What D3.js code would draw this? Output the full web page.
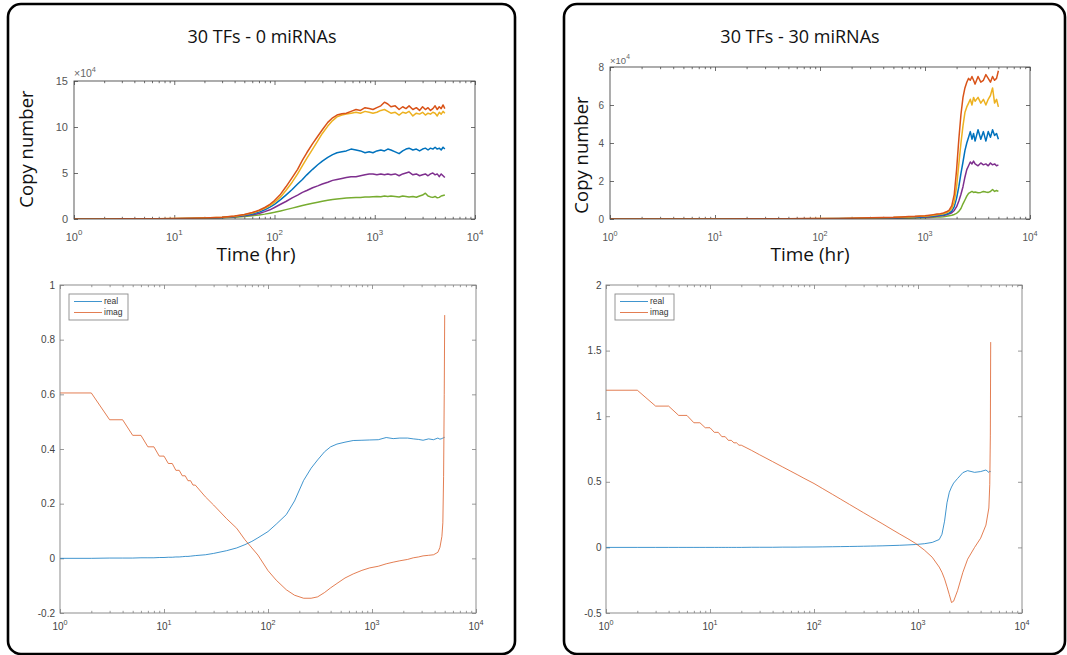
<!DOCTYPE html>
<html><head><meta charset="utf-8">
<script src="https://cdn.jsdelivr.net/npm/d3@7"></script>
<style>body{margin:0;background:#fff}svg{display:block}</style>
</head><body>
<svg id="c" width="1067" height="655"></svg>
<script>
// ---------- DATA ----------
// Panel titles
const titles = ["30 TFs - 0 miRNAs", "30 TFs - 30 miRNAs"];
const xMajorTicks = [1, 10, 100, 1000, 10000];
const yTicksTopA = [0, 5, 10, 15];
const yTicksTopB = [0, 2, 4, 6, 8];
const yTicksBotA = [-0.2, 0, 0.2, 0.4, 0.6, 0.8, 1];
const yTicksBotB = [-0.5, 0, 0.5, 1, 1.5, 2];
const legendLabels = ["real", "imag"];

// Top-left: copy number (x10^4) vs time (hr), 30 TFs - 0 miRNAs
const timeA = [1,2,3,5,7,10,15,20,30,40,50,60,70,80,90,100,115,130,150,170,190,210,240,270,300,340,380,420,470,520,580,650,720,800,880,960,1050,1150,1250,1350,1450,1600,1750,1900,2050,2200,2400,2600,2800,3000,3200,3400,3600,3800,4000,4200,4400,4600,4800,5000];
const redA = [0.01,0.01,0.02,0.03,0.04,0.06,0.08,0.12,0.2,0.33,0.5,0.7,0.95,1.25,1.6,2.0,2.7,3.5,4.5,5.4,6.4,7.2,8.2,9.0,9.7,10.5,11.0,11.3,11.45,11.5,11.7,11.9,11.8,12.1,12.0,11.9,12.1,12.3,12.7,12.5,12.2,12.3,11.9,12.2,12.0,12.3,11.9,12.1,11.8,12.2,11.9,12.1,11.8,12.0,12.3,11.9,12.2,12.0,12.4,12.0];
const yellowA = [0.01,0.01,0.02,0.03,0.04,0.05,0.08,0.11,0.19,0.31,0.47,0.65,0.88,1.15,1.45,1.8,2.4,3.1,4.0,4.9,5.8,6.6,7.6,8.5,9.3,10.1,10.7,11.1,11.3,11.4,11.5,11.6,11.5,11.7,11.6,11.5,11.6,11.8,11.9,11.7,11.5,11.6,11.3,11.6,11.5,11.7,11.2,11.5,11.4,11.6,11.3,11.5,11.4,11.6,11.5,11.2,11.6,11.4,11.7,11.5];
const blueA = [0.01,0.01,0.01,0.02,0.03,0.04,0.06,0.09,0.16,0.26,0.4,0.55,0.75,1.0,1.3,1.6,2.1,2.6,3.2,3.8,4.3,4.8,5.4,5.9,6.3,6.7,7.0,7.2,7.3,7.4,7.6,7.5,7.4,7.2,7.3,7.2,7.4,7.5,7.4,7.6,7.5,7.3,7.1,7.4,7.6,7.7,7.5,7.6,7.4,7.6,7.7,7.5,7.7,7.6,7.8,7.6,7.7,7.5,7.8,7.6];
const purpleA = [0.01,0.01,0.01,0.02,0.03,0.04,0.06,0.09,0.15,0.24,0.35,0.45,0.6,0.8,1.0,1.25,1.6,1.9,2.3,2.6,2.9,3.1,3.4,3.6,3.8,4.0,4.2,4.3,4.4,4.5,4.6,4.6,4.7,4.8,4.9,4.9,4.8,4.9,4.8,4.9,4.8,4.9,4.7,4.9,5.0,5.1,4.8,4.9,4.7,4.8,4.9,4.7,4.9,5.0,4.8,4.9,4.6,4.9,4.7,4.5];
const greenA = [0.01,0.01,0.01,0.02,0.03,0.04,0.06,0.08,0.13,0.2,0.28,0.36,0.44,0.53,0.63,0.73,0.88,1.02,1.18,1.33,1.47,1.58,1.72,1.83,1.93,2.03,2.12,2.18,2.23,2.28,2.32,2.34,2.35,2.38,2.4,2.43,2.45,2.42,2.5,2.45,2.5,2.45,2.4,2.5,2.45,2.4,2.45,2.36,2.5,2.6,2.8,2.5,2.4,2.35,2.45,2.3,2.35,2.5,2.55,2.6];

// Top-right: copy number (x10^4) vs time (hr), 30 TFs - 30 miRNAs
const timeB = [1,2,3,5,7,10,20,30,50,70,100,150,200,300,400,500,600,700,800,900,1000,1100,1200,1300,1400,1500,1600,1700,1800,1900,2000,2100,2200,2300,2400,2500,2600,2700,2800,2900,3000,3200,3400,3600,3800,4000,4200,4400,4600,4800,5000];
const redB = [0,0,0,0,0,0.005,0.01,0.01,0.015,0.02,0.025,0.03,0.04,0.06,0.08,0.09,0.11,0.13,0.14,0.16,0.17,0.2,0.23,0.26,0.28,0.32,0.38,0.47,0.7,1.3,2.6,4.2,5.5,6.4,6.9,7.2,7.4,7.3,7.5,7.3,7.1,7.5,7.2,7.3,7.6,7.4,7.2,7.5,7.3,7.4,7.8];
const yellowB = [0,0,0,0,0,0.005,0.01,0.01,0.013,0.018,0.022,0.027,0.035,0.05,0.07,0.08,0.1,0.11,0.12,0.14,0.15,0.17,0.2,0.22,0.25,0.28,0.33,0.4,0.55,0.9,1.7,2.9,4.0,4.9,5.6,5.9,6.1,6.3,6.0,6.4,6.2,6.4,6.1,6.3,6.0,6.3,6.5,6.9,6.1,6.3,5.9];
const blueB = [0,0,0,0,0,0.004,0.008,0.01,0.012,0.015,0.018,0.022,0.03,0.04,0.055,0.065,0.08,0.09,0.1,0.11,0.12,0.14,0.16,0.18,0.2,0.22,0.26,0.32,0.42,0.65,1.1,1.7,2.4,3.0,3.6,4.0,4.3,4.6,4.2,4.5,4.1,4.7,4.2,4.6,4.1,4.6,4.3,4.7,4.4,4.5,4.2];
const purpleB = [0,0,0,0,0,0.003,0.006,0.008,0.01,0.012,0.015,0.018,0.025,0.035,0.045,0.055,0.065,0.075,0.085,0.095,0.1,0.11,0.13,0.15,0.17,0.19,0.22,0.27,0.33,0.45,0.65,0.95,1.3,1.7,2.2,2.6,2.8,3.0,2.9,3.05,2.9,2.8,2.95,2.85,2.9,2.8,2.95,2.85,2.9,2.8,2.85];
const greenB = [0,0,0,0,0,0.002,0.004,0.005,0.007,0.009,0.01,0.013,0.018,0.025,0.03,0.035,0.04,0.045,0.05,0.06,0.07,0.08,0.09,0.1,0.11,0.12,0.14,0.17,0.2,0.24,0.3,0.4,0.55,0.8,1.0,1.2,1.35,1.4,1.45,1.4,1.42,1.38,1.4,1.45,1.42,1.4,1.45,1.55,1.45,1.5,1.45];

// Bottom-left: real / imag, 30 TFs - 0 miRNAs
const timeC = [1,2,3,4,5,6,7,8,9,10,11,12,13,14,15,16,17,18,19,20,25,30,40,50,60,70,80,100,120,150,180,220,260,300,350,400,460,550,660,800,950,1150,1370,1600,1850,2200,2500,2800,3100,3500,3900,4300,4500,4700,4800,4880,4950,5000];
const realC = [0,0,0.001,0.001,0.001,0.002,0.002,0.002,0.003,0.003,0.004,0.004,0.005,0.005,0.006,0.007,0.007,0.008,0.009,0.01,0.013,0.018,0.028,0.038,0.05,0.062,0.075,0.098,0.125,0.16,0.21,0.285,0.33,0.36,0.39,0.408,0.418,0.425,0.431,0.432,0.433,0.434,0.442,0.438,0.44,0.44,0.437,0.435,0.432,0.437,0.434,0.44,0.436,0.438,0.44,0.441,0.442,0.443];
const imagC = [0.605,0.605,0.507,0.507,0.45,0.45,0.408,0.408,0.374,0.374,0.347,0.347,0.322,0.322,0.302,0.302,0.284,0.284,0.268,0.268,0.225,0.195,0.145,0.11,0.068,0.038,0.012,-0.045,-0.08,-0.115,-0.135,-0.146,-0.146,-0.141,-0.125,-0.108,-0.092,-0.072,-0.057,-0.044,-0.035,-0.029,-0.02,-0.014,-0.009,-0.004,0.002,0.005,0.009,0.011,0.013,0.022,0.04,0.08,0.13,0.3,0.6,0.89];

// Bottom-right: real / imag, 30 TFs - 30 miRNAs
const timeD = [1,2,3,4,5,6,7,8,9,10,11,12,13,14,15,16,17,18,19,20,25,30,40,50,60,70,80,100,120,150,180,220,260,300,350,400,460,550,660,800,950,1150,1370,1600,1700,1800,1900,2000,2100,2200,2400,2700,3000,3500,4000,4500,4800,4900,4960,5000];
const realD = [0,0,0,0,0,0,0,0,0,0,0,0,0,0,0,0,0,0,0,0,0.001,0.001,0.001,0.002,0.002,0.002,0.003,0.003,0.004,0.005,0.006,0.007,0.008,0.009,0.01,0.011,0.012,0.014,0.016,0.019,0.022,0.028,0.038,0.06,0.1,0.2,0.34,0.42,0.46,0.49,0.525,0.57,0.585,0.572,0.578,0.59,0.572,0.58,0.578,0.58];
const imagD = [1.198,1.198,1.077,1.077,1.006,1.006,0.95,0.95,0.912,0.912,0.877,0.877,0.844,0.844,0.816,0.816,0.797,0.797,0.779,0.779,0.74,0.706,0.654,0.613,0.58,0.552,0.527,0.487,0.45,0.405,0.368,0.327,0.293,0.264,0.233,0.206,0.178,0.141,0.104,0.066,0.03,-0.02,-0.075,-0.15,-0.19,-0.24,-0.3,-0.36,-0.42,-0.41,-0.33,-0.19,-0.09,0.0,0.07,0.17,0.3,0.48,0.85,1.565];

// ---------- DRAWING ----------
const C = {blue:"#0072BD", red:"#D95319", yellow:"#EDB120", purple:"#7E2F8E", green:"#77AC30"};
const svg = d3.select("#c");
const TICKFONT = "'Liberation Sans', Arial, Helvetica, sans-serif";
const LABFONT = "'Open Sans', 'Noto Sans', sans-serif";

// panel frames
[[8, 4, 507, 650], [564, 4, 501, 650]].forEach(([x, y, w, h]) => {
  svg.append("rect").attr("x", x).attr("y", y).attr("width", w).attr("height", h)
    .attr("rx", 13).attr("ry", 13).attr("fill", "#fff").attr("stroke", "#000").attr("stroke-width", 2.6);
});

const minorTicks = [];
for (let d = 0; d < 4; d++) for (let k = 2; k <= 9; k++) minorTicks.push(k * Math.pow(10, d));

function chart(cfg) {
  const g = svg.append("g");
  const x = d3.scaleLog().domain([1, 1e4]).range([cfg.x0, cfg.x1]);
  const y = d3.scaleLinear().domain(cfg.yDomain).range([cfg.y1, cfg.y0]);
  const L = cfg.tick;
  const ax = (gen, tx, ty, vals, size) => {
    const a = g.append("g").attr("transform", `translate(${tx},${ty})`)
      .call(gen.tickValues(vals).tickSize(size).tickFormat(""));
    a.select(".domain").remove();
    a.selectAll("line").attr("stroke", cfg.axisColor).attr("stroke-width", 0.8);
  };
  ax(d3.axisBottom(x), 0, cfg.y1, xMajorTicks, -L);
  ax(d3.axisBottom(x), 0, cfg.y1, minorTicks, -L * 0.55);
  ax(d3.axisTop(x), 0, cfg.y0, xMajorTicks, -L);
  ax(d3.axisTop(x), 0, cfg.y0, minorTicks, -L * 0.55);
  ax(d3.axisLeft(y), cfg.x0, 0, cfg.yTicks, -L);
  ax(d3.axisRight(y), cfg.x1, 0, cfg.yTicks, -L);

  // series
  const clipId = "clip" + Math.round(cfg.x0) + "_" + Math.round(cfg.y0);
  g.append("clipPath").attr("id", clipId).append("rect")
    .attr("x", cfg.x0).attr("y", cfg.y0 - 2).attr("width", cfg.x1 - cfg.x0).attr("height", cfg.y1 - cfg.y0 + 2);
  const line = d3.line().x(d => x(d[0])).y(d => y(d[1]));
  cfg.series.forEach(s => {
    g.append("path").datum(d3.zip(cfg.times, s.vals)).attr("d", line)
      .attr("fill", "none").attr("stroke", s.color).attr("stroke-width", s.w)
      .attr("stroke-opacity", s.op).attr("stroke-linejoin", "round").attr("clip-path", `url(#${clipId})`);
  });

  // box
  g.append("rect").attr("x", cfg.x0).attr("y", cfg.y0).attr("width", cfg.x1 - cfg.x0)
    .attr("height", cfg.y1 - cfg.y0).attr("fill", "none").attr("stroke", cfg.axisColor).attr("stroke-width", 0.9);

  // y tick labels
  cfg.yTicks.forEach(v => {
    g.append("text").attr("x", cfg.x0 - cfg.yLabGap).attr("y", y(v)).attr("dy", "0.35em")
      .attr("text-anchor", "end").attr("font-family", TICKFONT).attr("font-size", cfg.fs)
      .attr("fill", cfg.labColor).text(cfg.yFmt(v));
  });
  // x tick labels 10^n
  xMajorTicks.forEach(v => {
    const t = g.append("text").attr("x", x(v)).attr("y", cfg.xLabY).attr("text-anchor", "middle")
      .attr("font-family", TICKFONT).attr("font-size", cfg.fs).attr("fill", cfg.labColor);
    t.append("tspan").text("10");
    t.append("tspan").attr("dy", -cfg.fs * 0.5).attr("font-size", cfg.fs * 0.72).text(String(Math.round(Math.log10(v))));
  });
  return {g, x, y};
}

const fmtBot = v => (v === 0 ? "0" : String(v).replace(/^(-?)0\./, "$10."));

// Top-left
chart({x0: 74, x1: 475, y0: 81, y1: 219, yDomain: [0, 15], yTicks: yTicksTopA, yFmt: d => String(d),
  fs: 11, tick: 4, axisColor: "#4a4a4a", labColor: "#555", yLabGap: 6, xLabY: 240.5, times: timeA,
  series: [
    {vals: greenA, color: C.green, w: 1.5, op: 1},
    {vals: purpleA, color: C.purple, w: 1.5, op: 1},
    {vals: blueA, color: C.blue, w: 1.5, op: 1},
    {vals: yellowA, color: C.yellow, w: 1.5, op: 1},
    {vals: redA, color: C.red, w: 1.5, op: 1}
  ]});
// Top-right
chart({x0: 610, x1: 1030, y0: 67, y1: 219, yDomain: [0, 8], yTicks: yTicksTopB, yFmt: d => String(d),
  fs: 10, tick: 4, axisColor: "#4a4a4a", labColor: "#555", yLabGap: 6, xLabY: 240.5, times: timeB,
  series: [
    {vals: greenB, color: C.green, w: 1.5, op: 1},
    {vals: purpleB, color: C.purple, w: 1.5, op: 1},
    {vals: blueB, color: C.blue, w: 1.5, op: 1},
    {vals: yellowB, color: C.yellow, w: 1.5, op: 1},
    {vals: redB, color: C.red, w: 1.5, op: 1}
  ]});
// Bottom-left
const bl = chart({x0: 60, x1: 476, y0: 285, y1: 613, yDomain: [-0.2, 1], yTicks: yTicksBotA, yFmt: fmtBot,
  fs: 10, tick: 4, axisColor: "#808080", labColor: "#444", yLabGap: 5, xLabY: 629.5, times: timeC,
  series: [
    {vals: realC, color: C.blue, w: 1, op: 0.75},
    {vals: imagC, color: C.red, w: 1, op: 0.75}
  ]});
// Bottom-right
const br = chart({x0: 606, x1: 1022, y0: 285, y1: 613, yDomain: [-0.5, 2], yTicks: yTicksBotB, yFmt: fmtBot,
  fs: 10, tick: 4, axisColor: "#808080", labColor: "#444", yLabGap: 4.5, xLabY: 629.5, times: timeD,
  series: [
    {vals: realD, color: C.blue, w: 1, op: 0.75},
    {vals: imagD, color: C.red, w: 1, op: 0.75}
  ]});

// legends
[bl, br].forEach(c => {
  const lx = c.x.range()[0] + 9, ly = 294;
  c.g.append("rect").attr("x", lx).attr("y", ly).attr("width", 59).attr("height", 26)
    .attr("fill", "#fff").attr("stroke", "#8a8a8a").attr("stroke-width", 0.9);
  [C.blue, C.red].forEach((col, i) => {
    const yy = ly + 7.5 + i * 11;
    c.g.append("line").attr("x1", lx + 5).attr("x2", lx + 33).attr("y1", yy).attr("y2", yy)
      .attr("stroke", col).attr("stroke-width", 1).attr("stroke-opacity", 0.75);
    c.g.append("text").attr("x", lx + 35).attr("y", yy).attr("dy", "0.35em")
      .attr("font-family", TICKFONT).attr("font-size", 8.5).attr("fill", "#333").text(legendLabels[i]);
  });
});

// titles, axis labels, exponent labels
[[262, 800], [0, 1]].length;
const titleX = [262, 800];
titles.forEach((t, i) => {
  svg.append("text").attr("x", titleX[i]).attr("y", 43).attr("text-anchor", "middle")
    .attr("font-family", LABFONT).attr("font-size", 18).attr("fill", "#111").text(t);
});
[[33, 149], [588, 155]].forEach(([cx, cy]) => {
  svg.append("text").attr("transform", `translate(${cx},${cy}) rotate(-90)`).attr("text-anchor", "middle")
    .attr("font-family", LABFONT).attr("font-size", 18.5).attr("fill", "#111").text("Copy number");
});
[256, 810].forEach(cx => {
  svg.append("text").attr("x", cx).attr("y", 261).attr("text-anchor", "middle")
    .attr("font-family", LABFONT).attr("font-size", 19).attr("fill", "#111").text("Time (hr)");
});
[[74, 77, 10.5], [610, 63.5, 9.5]].forEach(([ex, ey, fs]) => {
  const t = svg.append("text").attr("x", ex).attr("y", ey).attr("font-family", TICKFONT)
    .attr("font-size", fs).attr("fill", "#666");
  t.append("tspan").text("\u00d710");
  t.append("tspan").attr("dy", -fs * 0.5).attr("font-size", fs * 0.7).text("4");
});
</script>
</body></html>
